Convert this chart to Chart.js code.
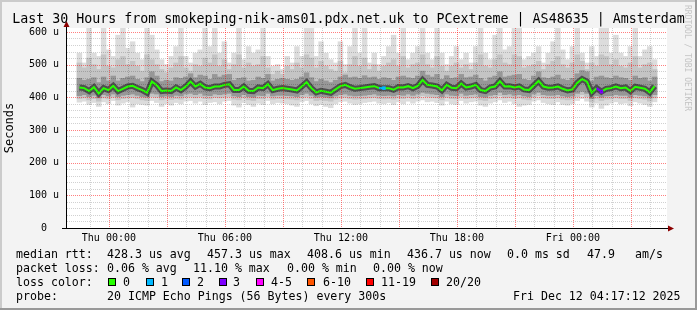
<!DOCTYPE html>
<html>
<head>
<meta charset="utf-8">
<script src="https://cdn.jsdelivr.net/npm/chart.js@4.4.1/dist/chart.umd.min.js"></script>
<style>
body { margin: 0; background: #f3f3f3; }
#box { position: relative; width: 697px; height: 310px; background: #f3f3f3; overflow: hidden; font-family: 'DejaVu Sans Mono', monospace; color: #000; }
#box canvas { position: absolute; left: 0; top: 0; }
.edge { position: absolute; }
.t { position: absolute; white-space: pre; font-size: 11.6px; line-height: 14px; }
.sw { position: absolute; width: 8px; height: 8px; border: 1px solid #000; box-sizing: border-box; top: 278px; }
#title { position: absolute; left: 0; width: 697px; top: 11px; text-align: center; font-size: 13.3px; line-height: 16px; white-space: pre; }
#credit { position: absolute; left: 692px; top: 5px; transform-origin: 0 0; transform: rotate(90deg); font-size: 8px; line-height: 9px; color: #c4c4c4; white-space: pre; }
</style>
</head>
<body>
<div id="box">
  <canvas id="chart" width="697" height="310"></canvas>
  <div class="edge" style="left:0;top:0;width:697px;height:2px;background:#cbcbcb"></div>
  <div class="edge" style="left:0;top:0;width:2px;height:310px;background:#cbcbcb"></div>
  <div class="edge" style="left:695px;top:0;width:2px;height:310px;background:#999"></div>
  <div class="edge" style="left:0;top:308px;width:697px;height:2px;background:#999"></div>

  <div id="title">Last 30 Hours from smokeping-nik-ams01.pdx.net.uk to PCextreme | AS48635 | Amsterdam</div>
  <div id="credit">RRDTOOL / TOBI OETIKER</div>

  <div class="t" style="left:16px;top:247px">median rtt:</div>
  <div class="t" style="left:107px;top:247px">428.3 us avg</div>
  <div class="t" style="left:207px;top:247px">457.3 us max</div>
  <div class="t" style="left:307px;top:247px">408.6 us min</div>
  <div class="t" style="left:407px;top:247px">436.7 us now</div>
  <div class="t" style="left:507px;top:247px">0.0 ms sd</div>
  <div class="t" style="left:587px;top:247px">47.9</div>
  <div class="t" style="left:635px;top:247px">am/s</div>

  <div class="t" style="left:16px;top:261px">packet loss:</div>
  <div class="t" style="left:107px;top:261px">0.06 % avg</div>
  <div class="t" style="left:193px;top:261px">11.10 % max</div>
  <div class="t" style="left:287px;top:261px">0.00 % min</div>
  <div class="t" style="left:373px;top:261px">0.00 % now</div>

  <div class="t" style="left:16px;top:275px">loss color:</div>
  <div id="lossKey"></div>

  <div class="t" style="left:16px;top:289px">probe:</div>
  <div class="t" style="left:107px;top:289px">20 ICMP Echo Pings (56 Bytes) every 300s</div>
  <div class="t" style="left:513px;top:289px">Fri Dec 12 04:17:12 2025</div>
</div>
<script>
// heures relatives à jeu. 00:00, un point toutes les 15 min
const startHour = -1.65;
const endHour = 28.35;
const stepHours = 0.25;

// médiane (us)
const median = [
  430, 428, 419, 431, 412, 428, 422, 435, 419, 426,
  433, 435, 428, 422, 414, 448, 437, 419, 421, 419,
  430, 422, 433, 448, 433, 441, 430, 428, 433, 433,
  438, 440, 422, 422, 433, 420, 419, 430, 428, 440,
  422, 426, 428, 426, 424, 421, 433, 446, 428, 415,
  420, 417, 414, 424, 434, 438, 431, 426, 428, 430,
  432, 434, 428, 428, 428, 423, 431, 430, 434, 428,
  435, 453, 438, 436, 433, 421, 438, 429, 428, 442,
  430, 433, 438, 422, 419, 430, 433, 449, 433, 434,
  430, 433, 424, 422, 436, 450, 433, 429, 430, 433,
  426, 421, 424, 444, 456, 448, 414, 428, 417, 426,
  428, 433, 428, 430, 419, 432, 429, 426, 415, 434
];

// pings perdus sur 20
const lossPings = [
  0, 0, 0, 0, 0, 0, 0, 0, 0, 0,
  0, 0, 0, 0, 0, 0, 0, 0, 0, 0,
  0, 0, 0, 0, 0, 0, 0, 0, 0, 0,
  0, 0, 0, 0, 0, 0, 0, 0, 0, 0,
  0, 0, 0, 0, 0, 0, 0, 0, 0, 0,
  0, 0, 0, 0, 0, 0, 0, 0, 0, 0,
  0, 0, 0, 1, 0, 0, 0, 0, 0, 0,
  0, 0, 0, 0, 0, 0, 0, 0, 0, 0,
  0, 0, 0, 0, 0, 0, 0, 0, 0, 0,
  0, 0, 0, 0, 0, 0, 0, 0, 0, 0,
  0, 0, 0, 0, 0, 0, 0, 0, 3, 0,
  0, 0, 0, 0, 0, 0, 0, 0, 0, 0
];

// fumée : ping le plus bas / le plus haut
const minv = [
  385, 388, 378, 384, 372, 386, 380, 390, 376, 382,
  386, 370, 380, 378, 376, 390, 384, 372, 380, 376,
  384, 380, 388, 390, 382, 388, 378, 384, 386, 380,
  388, 390, 376, 370, 384, 378, 372, 382, 378, 390,
  380, 384, 382, 380, 376, 372, 386, 390, 380, 374,
  378, 372, 368, 380, 386, 388, 382, 378, 380, 384,
  386, 388, 382, 380, 384, 378, 386, 380, 388, 382,
  388, 392, 386, 388, 384, 376, 388, 380, 378, 390,
  382, 386, 388, 376, 372, 382, 386, 392, 384, 388,
  380, 372, 376, 378, 388, 392, 384, 380, 378, 386,
  378, 376, 380, 390, 396, 388, 370, 382, 366, 376,
  382, 386, 380, 382, 374, 386, 382, 378, 372, 386
];
const maxv = [
  535, 505, 615, 535, 525, 615, 545, 525, 590, 615,
  550, 570, 535, 515, 615, 590, 545, 515, 500, 525,
  555, 615, 525, 505, 535, 545, 615, 555, 615, 535,
  570, 505, 535, 615, 515, 555, 535, 545, 615, 525,
  495, 500, 485, 525, 505, 555, 525, 615, 615, 525,
  570, 535, 515, 505, 570, 500, 555, 615, 535, 615,
  505, 535, 500, 525, 555, 590, 535, 615, 515, 535,
  555, 615, 535, 515, 615, 535, 500, 525, 555, 515,
  535, 505, 555, 615, 535, 515, 590, 615, 545, 555,
  615, 615, 515, 525, 535, 555, 505, 535, 570, 615,
  545, 515, 555, 615, 535, 505, 555, 525, 615, 615,
  535, 590, 535, 525, 555, 615, 525, 545, 555, 515
];
// bande moyenne
const lo2 = [
  396, 398, 392, 396, 388, 398, 395, 400, 392, 396,
  398, 400, 396, 392, 390, 402, 400, 392, 395, 393,
  396, 394, 400, 402, 398, 402, 396, 395, 400, 398,
  400, 402, 394, 392, 398, 392, 390, 396, 395, 402,
  394, 396, 396, 395, 394, 392, 398, 402, 396, 390,
  392, 390, 388, 394, 398, 400, 396, 394, 395, 396,
  398, 400, 396, 395, 396, 394, 398, 396, 400, 396,
  400, 405, 402, 400, 398, 392, 400, 396, 395, 402,
  396, 398, 400, 392, 390, 396, 398, 405, 398, 400,
  396, 398, 394, 392, 400, 405, 398, 396, 396, 398,
  394, 392, 394, 402, 408, 402, 386, 395, 390, 394,
  395, 398, 396, 396, 390, 398, 396, 394, 388, 398
];
const hi2 = [
  505, 490, 520, 500, 485, 530, 495, 490, 515, 525,
  500, 510, 495, 480, 530, 515, 500, 485, 475, 490,
  505, 525, 490, 480, 500, 495, 520, 505, 530, 495,
  515, 485, 500, 530, 490, 505, 495, 500, 525, 490,
  470, 480, 470, 495, 485, 505, 490, 530, 520, 490,
  510, 495, 485, 480, 510, 475, 500, 525, 495, 520,
  485, 500, 480, 495, 505, 515, 495, 525, 490, 500,
  505, 530, 500, 490, 525, 495, 480, 495, 505, 490,
  500, 485, 505, 530, 495, 490, 515, 530, 505, 500,
  530, 525, 490, 495, 500, 510, 485, 500, 510, 525,
  500, 490, 505, 530, 510, 485, 505, 495, 530, 525,
  500, 515, 495, 490, 505, 525, 490, 500, 505, 485
];
// bande foncée
const lo3 = [
  405, 408, 402, 406, 398, 408, 404, 410, 402, 406,
  408, 410, 406, 402, 400, 412, 410, 402, 404, 402,
  406, 404, 410, 412, 408, 412, 406, 405, 410, 408,
  410, 412, 404, 402, 408, 402, 400, 406, 405, 412,
  404, 406, 406, 405, 404, 402, 408, 412, 406, 400,
  402, 400, 398, 404, 408, 410, 406, 404, 405, 406,
  408, 410, 406, 405, 406, 404, 408, 406, 410, 406,
  410, 415, 412, 410, 408, 402, 410, 406, 405, 412,
  406, 408, 410, 402, 400, 406, 408, 415, 408, 410,
  406, 408, 404, 402, 410, 415, 408, 406, 406, 408,
  404, 402, 404, 412, 418, 412, 396, 405, 400, 404,
  405, 408, 406, 406, 400, 408, 406, 404, 398, 408
];
const hi3 = [
  458, 452, 455, 460, 445, 462, 450, 465, 450, 458,
  462, 465, 455, 448, 460, 478, 465, 448, 452, 450,
  460, 458, 462, 472, 460, 468, 465, 455, 470, 462,
  468, 470, 452, 458, 460, 450, 452, 462, 458, 470,
  450, 455, 458, 455, 452, 455, 462, 475, 460, 448,
  455, 450, 445, 452, 462, 468, 460, 462, 458, 466,
  460, 462, 455, 460, 458, 452, 462, 465, 460, 458,
  465, 480, 468, 462, 470, 455, 466, 458, 460, 470,
  460, 462, 468, 458, 450, 460, 465, 478, 462, 465,
  468, 470, 455, 452, 465, 478, 460, 458, 462, 468,
  455, 452, 458, 472, 482, 478, 450, 462, 465, 460,
  458, 465, 460, 458, 452, 465, 458, 460, 450, 462
];

const yTickValues = [0, 100, 200, 300, 400, 500, 600];
const yTickLabels = ['0  ', '100 u', '200 u', '300 u', '400 u', '500 u', '600 u'];
const xTickHours = [0, 6, 12, 18, 24];
const xTickLabels = ['Thu 00:00', 'Thu 06:00', 'Thu 12:00', 'Thu 18:00', 'Fri 00:00'];

const lossNames = ['0', '1', '2', '3', '4-5', '6-10', '11-19', '20/20'];
const lossSteps = [0, 1, 2, 3, 5, 10, 19, 20];
const lossColors = ['#26ff00', '#00b8ff', '#0059ff', '#7e00ff', '#ff00ff', '#ff5500', '#ff0000', '#a10000'];
const lossBoxX = [108, 146, 182, 219, 256, 307, 366, 431];
const lossTextX = [123, 161, 197, 233, 271, 323, 381, 446];

const majorGrid = 'rgba(255,0,0,0.5)';
const minorGrid = 'rgba(0,0,0,0.18)';

function lossColor(n) {
    for (let k = 0; k < lossSteps.length; k++) {
        if (n <= lossSteps[k]) return lossColors[k];
    }
    return lossColors[lossColors.length - 1];
}

// légende des couleurs de perte
let key = document.getElementById('lossKey');
lossNames.forEach((name, k) => {
    let sw = document.createElement('div');
    sw.className = 'sw';
    sw.style.left = lossBoxX[k] + 'px';
    sw.style.background = lossColors[k];
    key.appendChild(sw);
    let t = document.createElement('div');
    t.className = 't';
    t.style.left = lossTextX[k] + 'px';
    t.style.top = '275px';
    t.textContent = name;
    key.appendChild(t);
});

const hourAt = i => startHour + (i + 0.5) * stepHours;
const medianPts = median.map((v, i) => ({ x: hourAt(i), y: v }));
function band(lo, hi) {
    return lo.map((v, i) => ({ x: hourAt(i), y: [v, hi[i]] }));
}

// fond blanc, grille pointillée par-dessus la fumée, axes avec flèches
const frame = {
    id: 'frame',
    beforeDraw(chart) {
        const { ctx, chartArea: a } = chart;
        ctx.save();
        ctx.fillStyle = '#fff';
        ctx.fillRect(a.left, a.top, a.right - a.left, a.bottom - a.top);
        ctx.restore();
    },
    afterDatasetsDraw(chart) {
        const { ctx, chartArea: a, scales } = chart;
        const sx = scales.x, sy = scales.y;
        ctx.save();
        ctx.lineWidth = 1;
        ctx.setLineDash([1, 1]);
        [false, true].forEach(major => {
            ctx.strokeStyle = major ? majorGrid : minorGrid;
            ctx.beginPath();
            sx.ticks.forEach(t => {
                if ((((t.value % 3) + 3) % 3 === 0) !== major) return;
                const px = Math.round(sx.getPixelForValue(t.value)) + 0.5;
                ctx.moveTo(px, a.top);
                ctx.lineTo(px, a.bottom);
            });
            sy.ticks.forEach(t => {
                if (t.value === 0 || (t.value % 100 === 0) !== major) return;
                const py = Math.round(sy.getPixelForValue(t.value)) + 0.5;
                ctx.moveTo(a.left, py);
                ctx.lineTo(a.right, py);
            });
            ctx.stroke();
        });
        ctx.restore();
    },
    afterDraw(chart) {
        const { ctx, chartArea: a } = chart;
        ctx.save();
        ctx.strokeStyle = '#000';
        ctx.lineWidth = 1;
        ctx.beginPath();
        ctx.moveTo(a.left - 0.5, a.top - 5);
        ctx.lineTo(a.left - 0.5, a.bottom + 1);
        ctx.moveTo(a.left - 5, a.bottom + 0.5);
        ctx.lineTo(a.right + 3, a.bottom + 0.5);
        ctx.stroke();
        ctx.fillStyle = '#8b0000';
        ctx.beginPath();
        ctx.moveTo(a.left - 0.5, a.top - 7);
        ctx.lineTo(a.left - 3.5, a.top - 1);
        ctx.lineTo(a.left + 2.5, a.top - 1);
        ctx.closePath();
        ctx.fill();
        ctx.beginPath();
        ctx.moveTo(a.right + 7, a.bottom + 0.5);
        ctx.lineTo(a.right + 1, a.bottom - 2.5);
        ctx.lineTo(a.right + 1, a.bottom + 3.5);
        ctx.closePath();
        ctx.fill();
        ctx.restore();
    }
};

const mono10 = { family: 'DejaVu Sans Mono', size: 10 };

new Chart(document.getElementById('chart'), {
    type: 'bar',
    data: {
        datasets: [
            {
                type: 'line', data: medianPts, order: 0,
                borderColor: '#26ff00', borderWidth: 2,
                segment: { borderColor: c => lossColor(lossPings[c.p1DataIndex]) },
                pointStyle: 'rect',
                pointRadius: c => lossPings[c.dataIndex] > 0 ? 2.5 : 0,
                pointBackgroundColor: c => lossColor(lossPings[c.dataIndex]),
                pointBorderWidth: 0
            },
            {
                type: 'line', data: medianPts, order: 1,
                borderColor: 'rgba(20,20,20,0.55)', borderWidth: 6, pointRadius: 0
            },
            { data: band(lo3, hi3), backgroundColor: '#979797', order: 2 },
            { data: band(lo2, hi2), backgroundColor: '#c4c4c4', order: 3 },
            { data: band(minv, maxv), backgroundColor: '#dcdcdc', order: 4 }
        ]
    },
    options: {
        responsive: false,
        animation: false,
        events: [],
        datasets: { bar: { grouped: false, barPercentage: 1, categoryPercentage: 1, borderWidth: 0 } },
        layout: { padding: { left: 0, top: 28, right: 30, bottom: 62 } },
        plugins: { legend: { display: false }, tooltip: { enabled: false } },
        scales: {
            x: {
                type: 'linear', min: startHour, max: endHour,
                afterFit: s => { s.height = 20; },
                afterBuildTicks: s => {
                    let t = [];
                    for (let h = Math.ceil(startHour); h <= endHour; h++) t.push({ value: h });
                    s.ticks = t;
                },
                ticks: {
                    autoSkip: false, maxRotation: 0, padding: 4, color: '#000', font: mono10,
                    callback: v => {
                        let k = xTickHours.indexOf(v);
                        return k >= 0 ? xTickLabels[k] : '';
                    }
                },
                grid: { display: false, drawTicks: false },
                border: { display: false }
            },
            y: {
                min: 0, max: 612,
                afterFit: s => { s.width = 67; },
                afterBuildTicks: s => {
                    let t = [];
                    for (let v = 0; v <= 600; v += 20) t.push({ value: v });
                    s.ticks = t;
                },
                ticks: {
                    autoSkip: false, padding: 8, color: '#000', font: mono10,
                    callback: v => {
                        let k = yTickValues.indexOf(v);
                        return k >= 0 ? yTickLabels[k] : '';
                    }
                },
                grid: { display: false, drawTicks: false },
                border: { display: false },
                title: {
                    display: true, text: 'Seconds', color: '#000',
                    font: { family: 'DejaVu Sans Mono', size: 12 },
                    padding: { top: 3, bottom: 0 }
                }
            }
        }
    },
    plugins: [frame]
});
</script>
</body>
</html>
